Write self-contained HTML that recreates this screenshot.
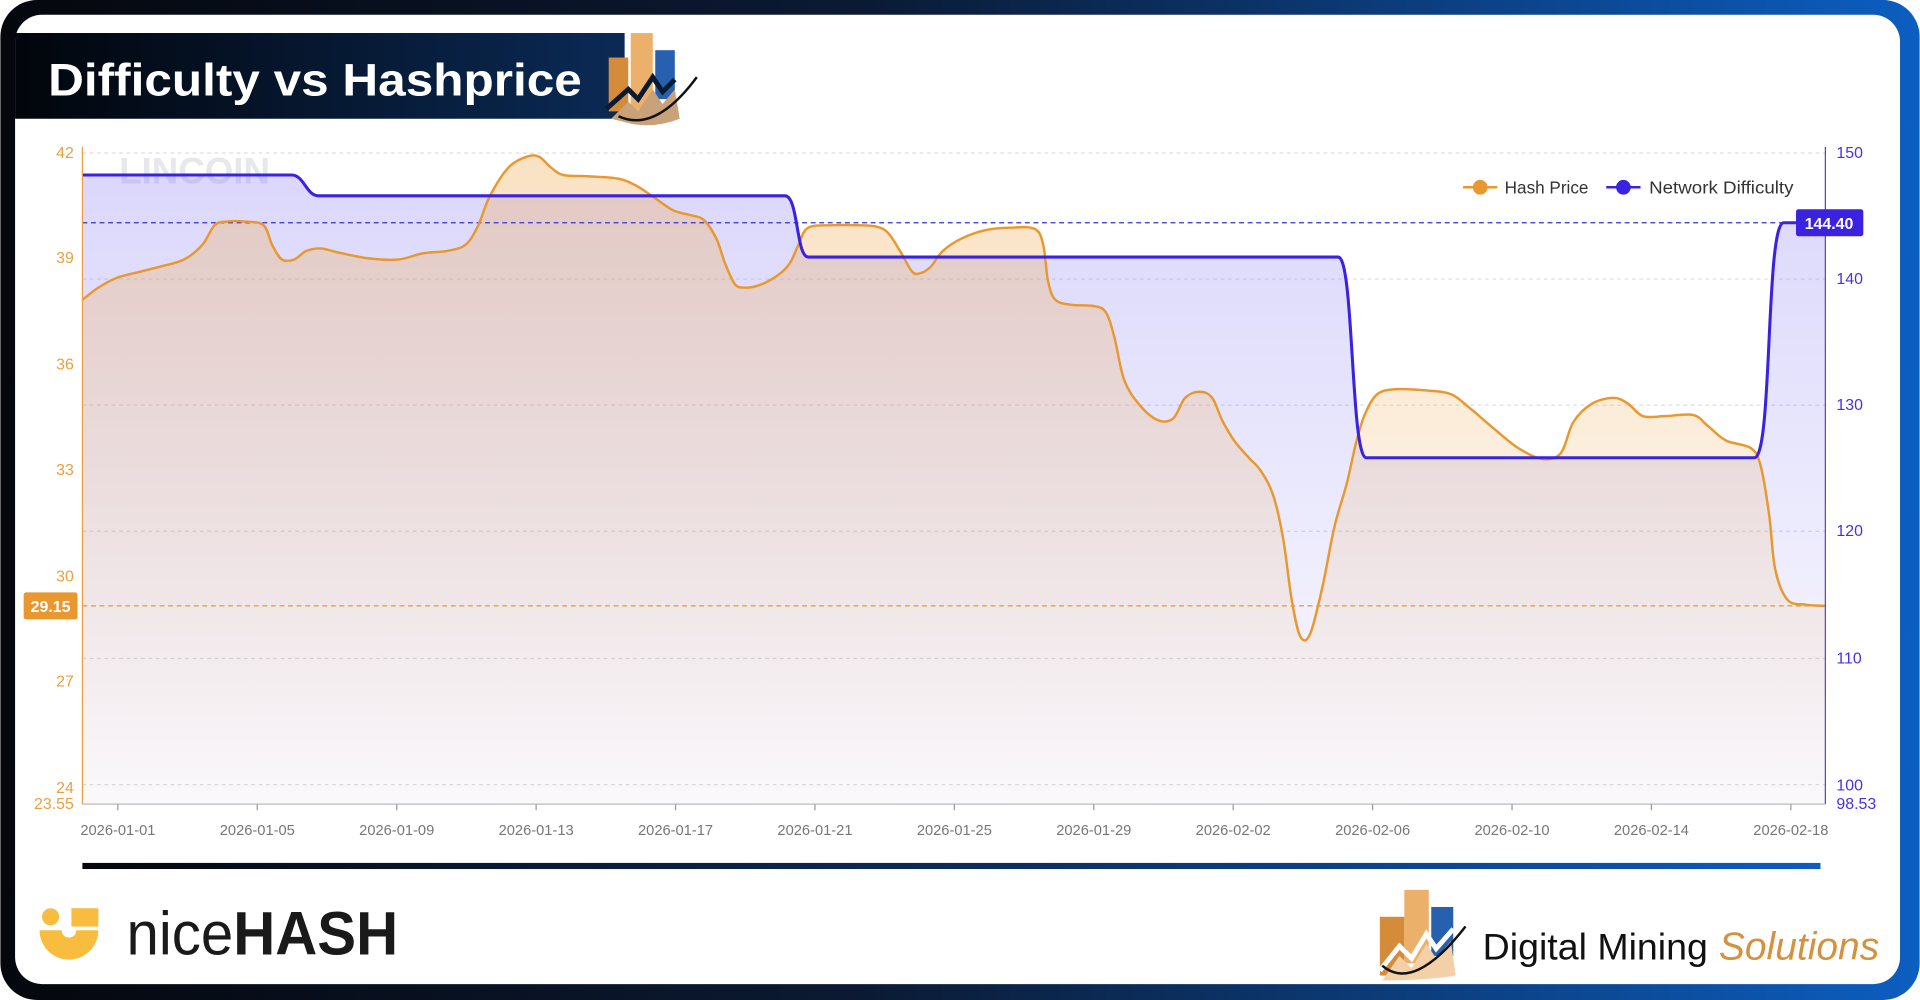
<!DOCTYPE html>
<html><head><meta charset="utf-8"><style>
html,body{margin:0;padding:0;background:#fff;width:1920px;height:1000px;overflow:hidden}
svg{display:block}
text{font-family:"Liberation Sans",sans-serif}
</style></head><body>
<svg width="1920" height="1000" viewBox="0 0 1568 817" xmlns="http://www.w3.org/2000/svg">
<defs>
<linearGradient id="frame" x1="0" x2="1" y1="0" y2="0">
<stop offset="0" stop-color="#05070d"/><stop offset="0.45" stop-color="#0b1a33"/><stop offset="1" stop-color="#0c5ec0"/>
</linearGradient>
<linearGradient id="title" x1="0" x2="1"><stop offset="0" stop-color="#02050b"/><stop offset="1" stop-color="#0a2a55"/></linearGradient>
<linearGradient id="rule" x1="0" x2="1"><stop offset="0" stop-color="#04070d"/><stop offset="0.5" stop-color="#0c2b5a"/><stop offset="1" stop-color="#0d5cc0"/></linearGradient>
<linearGradient id="hpf" gradientUnits="userSpaceOnUse" x1="0" y1="125" x2="0" y2="657">
<stop offset="0" stop-color="#f0b060" stop-opacity="0.38"/><stop offset="1" stop-color="#f0b060" stop-opacity="0.02"/></linearGradient>
<linearGradient id="ndf" gradientUnits="userSpaceOnUse" x1="0" y1="125" x2="0" y2="657">
<stop offset="0" stop-color="#6a5cf0" stop-opacity="0.25"/><stop offset="1" stop-color="#6a5cf0" stop-opacity="0.03"/></linearGradient>
</defs>
<rect x="0" y="0" width="1568" height="817" rx="30" fill="url(#frame)"/>
<rect x="12" y="12" width="1540" height="792" rx="22" fill="#fff"/>
<path d="M12 27 H510 V97 H12 Z" fill="url(#title)"/>
<text x="39" y="78" font-size="37" font-weight="bold" fill="#fff" textLength="436" lengthAdjust="spacingAndGlyphs">Difficulty vs Hashprice</text>
<g transform="translate(495,27)">
<rect x="2" y="20" width="16" height="44" fill="#d48b3a"/><rect x="20" y="0" width="18" height="64" fill="#ebb06a"/><rect x="40" y="14" width="16" height="40" fill="#2860b0"/>
<path d="M4 70 L18 56 L26 64 L38 46 L46 58 L56 46 L60 70 Q40 78 20 74 Z" fill="#c9a27a"/>
<path d="M0 62 L18 46 L26 54 L38 36 L46 48 L56 38" stroke="#0a1a30" stroke-width="4" fill="none"/>
<path d="M10 68 Q40 82 74 36" stroke="#111" stroke-width="2" fill="none"/>
</g>
<g stroke="#ddd" stroke-dasharray="3,3" stroke-width="1">
<line x1="67" x2="1491" y1="125" y2="125"/><line x1="67" x2="1491" y1="228" y2="228"/><line x1="67" x2="1491" y1="331" y2="331"/><line x1="67" x2="1491" y1="434" y2="434"/><line x1="67" x2="1491" y1="538" y2="538"/><line x1="67" x2="1491" y1="641" y2="641"/>
</g>
<text x="97" y="150" font-size="30" font-weight="bold" fill="#e6e8ee">LINCOIN</text>
<path id="ndfill" fill="url(#ndf)"/>
<path id="hpfill" fill="url(#hpf)"/>
<line x1="67" x2="1491" y1="182" y2="182" stroke="#3a2ee0" stroke-dasharray="4,3" stroke-width="1"/>
<line x1="67" x2="1491" y1="495" y2="495" stroke="#e8982e" stroke-dasharray="4,3" stroke-width="1"/>
<path id="hpline" fill="none" stroke="#e8982e" stroke-width="2"/>
<path id="ndline" fill="none" stroke="#3a22e0" stroke-width="2.5"/>
<line x1="67" x2="67" y1="120" y2="657" stroke="#e8a040" stroke-width="1"/>
<line x1="1491" x2="1491" y1="120" y2="657" stroke="#5a40e0" stroke-width="1"/>
<line x1="67" x2="1491" y1="657" y2="657" stroke="#bbb" stroke-width="1"/>
<g font-size="13" fill="#e8a040" text-anchor="end">
<text x="60" y="129">42</text><text x="60" y="215">39</text><text x="60" y="302">36</text><text x="60" y="388">33</text><text x="60" y="475">30</text><text x="60" y="561">27</text><text x="60" y="648">24</text><text x="60" y="661">23.55</text>
</g>
<g font-size="13" fill="#4a30e0">
<text x="1500" y="129">150</text><text x="1500" y="232">140</text><text x="1500" y="335">130</text><text x="1500" y="438">120</text><text x="1500" y="542">110</text><text x="1500" y="646">100</text><text x="1500" y="661">98.53</text>
</g>
<rect x="19" y="484" width="44" height="22" rx="2" fill="#e8982e"/>
<text x="41" y="500" font-size="13" font-weight="bold" fill="#fff" text-anchor="middle">29.15</text>
<rect x="1467" y="171" width="55" height="22" rx="2" fill="#3a22e0"/>
<text x="1494" y="187" font-size="13" font-weight="bold" fill="#fff" text-anchor="middle">144.40</text>
<g id="xt" font-size="12" fill="#777" text-anchor="middle"></g>
<line x1="1195" x2="1223" y1="153" y2="153" stroke="#e8982e" stroke-width="2"/><circle cx="1209" cy="153" r="6" fill="#e8982e"/>
<text x="1229" y="158" font-size="14" fill="#333">Hash Price</text>
<line x1="1312" x2="1340" y1="153" y2="153" stroke="#3a22e0" stroke-width="2"/><circle cx="1326" cy="153" r="6" fill="#3a22e0"/>
<text x="1347" y="158" font-size="14" fill="#333" textLength="118" lengthAdjust="spacingAndGlyphs">Network Difficulty</text>
<rect x="67" y="705" width="1420" height="5" fill="url(#rule)"/>
<circle cx="41" cy="749" r="7" fill="#f8bd3e"/>
<rect x="58" y="742" width="22" height="15" fill="#f8bd3e"/>
<path d="M32 760 H50 A6 6 0 0 0 62 760 H80 A24 24 0 0 1 32 760 Z" fill="#f8bd3e"/>
<text x="103" y="780" font-size="50" fill="#1a1a1a" textLength="222" lengthAdjust="spacingAndGlyphs">nice<tspan font-weight="bold">HASH</tspan></text>
<g transform="translate(1125,727)">
<rect x="2" y="22" width="20" height="48" fill="#d48b3a"/><rect x="22" y="0" width="20" height="60" fill="#ebb06a"/><rect x="44" y="14" width="18" height="40" fill="#2860b0"/>
<path d="M4 74 L18 54 L28 64 L40 44 L48 56 L60 42 L64 70 Q40 74 4 74Z" fill="#f3d0a8"/>
<path d="M2 66 L18 46 L28 56 L40 36 L48 48 L62 32" stroke="#fff" stroke-width="4" fill="none"/>
<path d="M4 62 Q30 84 72 30" stroke="#111" stroke-width="2" fill="none"/>
</g>
<text x="1211" y="784" font-size="30" fill="#111" textLength="184" lengthAdjust="spacingAndGlyphs">Digital Mining</text>
<text x="1404" y="784" font-size="32" font-style="italic" font-family="Liberation Serif" fill="#d4913e" textLength="131" lengthAdjust="spacingAndGlyphs">Solutions</text>
</svg>
<script>
var hp=[[67,245],[80,235],[95,227],[110,223],[130,218],[150,212],[165,200],[175,184],[185,181],[200,181],[215,184],[222,200],[230,212],[240,212],[250,205],[262,203],[275,206],[300,211],[325,212],[345,207],[365,205],[380,200],[390,185],[400,160],[415,137],[430,128],[440,128],[450,137],[460,143],[480,144],[505,146],[520,152],[535,162],[550,172],[565,176],[575,180],[585,195],[592,215],[600,232],[608,235],[620,233],[635,225],[645,215],[652,200],[660,186],[680,184],[700,184],[715,185],[725,190],[735,205],[745,222],[752,223],[760,218],[770,205],[785,195],[805,188],[825,186],[845,187],[852,200],[856,230],[862,245],[875,249],[893,250],[903,255],[910,275],[918,310],[930,330],[945,343],[958,342],[968,325],[980,320],[990,325],[998,343],[1008,360],[1020,374],[1030,385],[1040,405],[1048,440],[1055,490],[1062,520],[1070,518],[1080,480],[1090,430],[1100,395],[1108,360],[1115,338],[1125,322],[1140,318],[1165,319],[1185,322],[1200,333],[1220,350],[1240,366],[1260,375],[1275,370],[1285,345],[1300,330],[1318,325],[1330,330],[1342,340],[1360,340],[1383,339],[1395,348],[1410,360],[1430,366],[1438,380],[1445,420],[1450,465],[1460,490],[1475,494],[1491,495]];
function smooth(p){var d="M"+p[0][0]+" "+p[0][1];for(var i=0;i<p.length-1;i++){var p0=p[i-1]||p[i],p1=p[i],p2=p[i+1],p3=p[i+2]||p2;var t=6;d+=" C"+(p1[0]+(p2[0]-p0[0])/t)+" "+(p1[1]+(p2[1]-p0[1])/t)+" "+(p2[0]-(p3[0]-p1[0])/t)+" "+(p2[1]-(p3[1]-p1[1])/t)+" "+p2[0]+" "+p2[1];}return d;}
var h=smooth(hp);
document.getElementById('hpline').setAttribute('d',h);
document.getElementById('hpfill').setAttribute('d',h+" L1491 657 L67 657 Z");
var nd="M67 143 L238 143 C248 143 250 160 260 160 L641 160 C652 160 650 210 660 210 L1093 210 C1106 210 1103 374 1116 374 L1433 374 C1448 374 1442 182 1457 182 L1468 182";
document.getElementById('ndline').setAttribute('d',nd);
document.getElementById('ndfill').setAttribute('d',nd+" L1491 182 L1491 657 L67 657 Z");
var xt=document.getElementById('xt'),ns="http://www.w3.org/2000/svg";
var lab=["2026-01-01","2026-01-05","2026-01-09","2026-01-13","2026-01-17","2026-01-21","2026-01-25","2026-01-29","2026-02-02","2026-02-06","2026-02-10","2026-02-14","2026-02-18"];
for(var i=0;i<13;i++){var x=96+i*113.9;var t=document.createElementNS(ns,'text');t.setAttribute('x',x);t.setAttribute('y',682);t.textContent=lab[i];xt.appendChild(t);var l=document.createElementNS(ns,'line');l.setAttribute('x1',x);l.setAttribute('x2',x);l.setAttribute('y1',657);l.setAttribute('y2',662);l.setAttribute('stroke','#999');xt.appendChild(l);}
</script>
</body></html>
